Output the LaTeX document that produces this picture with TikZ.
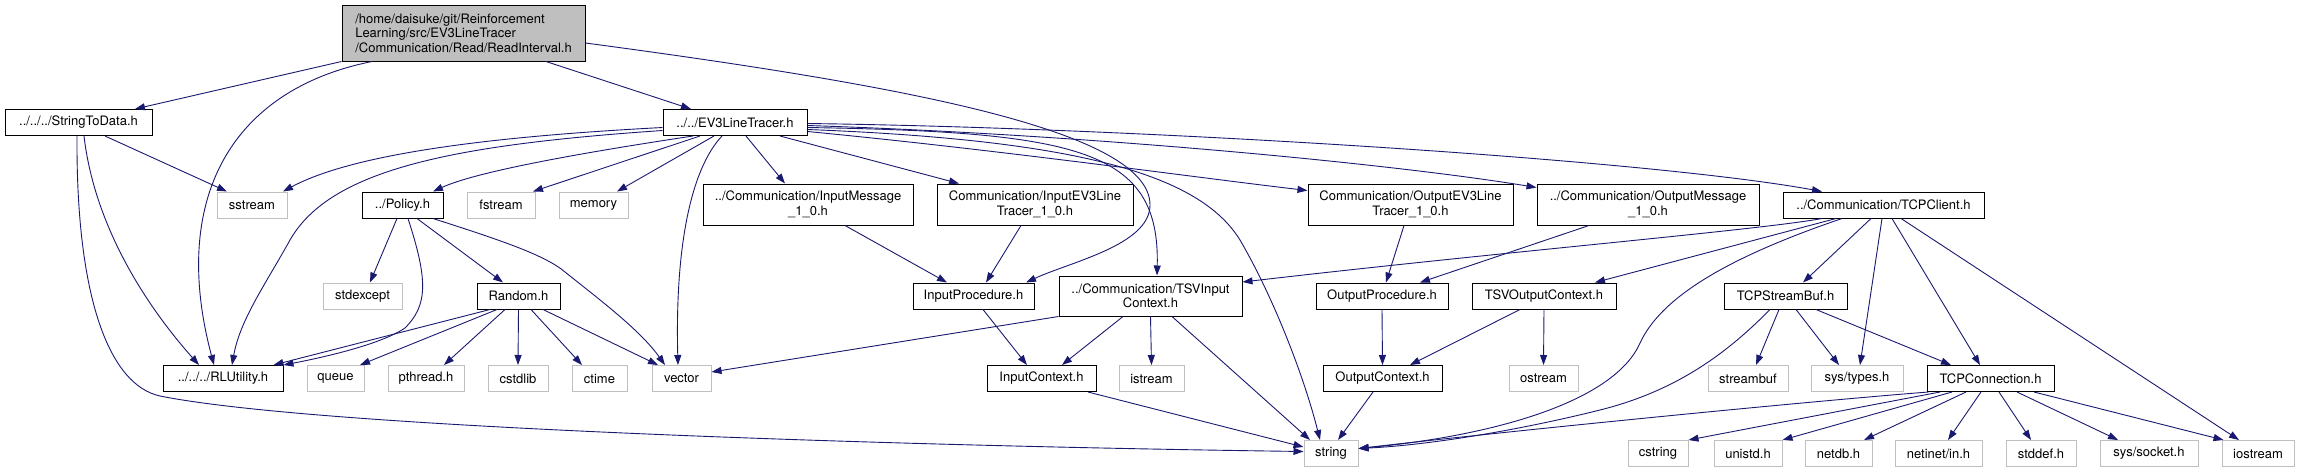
\documentclass[tikz,border=0pt]{standalone}
\usepackage{fontspec}
\setmainfont{TeX Gyre Heros}
\usepackage{tikz}
\usetikzlibrary{arrows.meta}
\definecolor{edgeblue}{HTML}{191970}
\definecolor{boxgray}{HTML}{BFBFBF}

\begin{document}
\begin{tikzpicture}[
  x=1pt, y=-1pt,
  every node/.style={font=\fontsize{13}{14.5}\selectfont},
  hdr/.style={
    rectangle, draw=black, line width=1pt, fill=white,
    minimum height=26, inner sep=0pt, align=center},
  sys/.style={hdr, draw=boxgray},
  cur/.style={hdr, fill=boxgray, align=left},
  arr/.style={
    -{Triangle[length=10pt,width=7pt]},
    draw=edgeblue, line width=0.9pt},
]

\useasboundingbox (0,0) rectangle (2300,472);

\node[cur, minimum width=243, minimum height=56] (root) at (463.5, 33)
  {/home/daisuke/git/Reinforcement\\Learning/src/EV3LineTracer\\/Communication/Read/ReadInterval.h};

\node[hdr, minimum width=147] (strdata) at (78.5, 122.5) {../../../StringToData.h};
\node[hdr, minimum width=144] (ev3)     at (735, 122.5)  {../../EV3LineTracer.h};

\node[sys, minimum width=70]  (sstr)   at (252, 205)    {sstream};
\node[hdr, minimum width=81]  (policy) at (402.5, 205)  {../Policy.h};
\node[sys, minimum width=68]  (fstr)   at (501, 205)    {fstream};
\node[sys, minimum width=69]  (mem)    at (593.5, 205)  {memory};
\node[hdr, minimum width=210, minimum height=41] (inmsg)  at (808, 204.5)
  {../Communication/InputMessage\\\_1\_0.h};
\node[hdr, minimum width=196, minimum height=41] (inev3)  at (1035, 204.5)
  {Communication/InputEV3Line\\Tracer\_1\_0.h};
\node[hdr, minimum width=205, minimum height=41] (outev3) at (1410.5, 204.5)
  {Communication/OutputEV3Line\\Tracer\_1\_0.h};
\node[hdr, minimum width=222, minimum height=41] (outmsg) at (1648, 204.5)
  {../Communication/OutputMessage\\\_1\_0.h};
\node[hdr, minimum width=201] (tcpcl)  at (1883.5, 205) {../Communication/TCPClient.h};

\node[sys, minimum width=79]  (stdexc)  at (362.5, 296)  {stdexcept};
\node[hdr, minimum width=83]  (rnd)     at (518.5, 296)  {Random.h};
\node[hdr, minimum width=121] (inproc)  at (973.5, 296)  {InputProcedure.h};
\node[hdr, minimum width=183, minimum height=40] (tsvin) at (1150.5, 296)
  {../Communication/TSVInput\\Context.h};
\node[hdr, minimum width=132] (outproc) at (1382, 296)   {OutputProcedure.h};
\node[hdr, minimum width=144] (tsvout)  at (1544, 296)   {TSVOutputContext.h};
\node[hdr, minimum width=123] (tcpbuf)  at (1785.5, 296) {TCPStreamBuf.h};

\node[hdr, minimum width=120] (rlutil)  at (223, 378.5)    {../../../RLUtility.h};
\node[sys, minimum width=57]  (queue)   at (335.5, 378.5)  {queue};
\node[sys, minimum width=76]  (pthr)    at (426, 378.5)    {pthread.h};
\node[sys, minimum width=60]  (cstdl)   at (518, 378.5)    {cstdlib};
\node[sys, minimum width=55]  (ctime)   at (599.5, 378.5)  {ctime};
\node[sys, minimum width=59]  (vect)    at (681.5, 378.5)  {vector};
\node[hdr, minimum width=109] (inctx)   at (1041.5, 378.5) {InputContext.h};
\node[sys, minimum width=65]  (istr)    at (1151.5, 378.5) {istream};
\node[hdr, minimum width=119] (outctx)  at (1382.5, 378.5) {OutputContext.h};
\node[sys, minimum width=69]  (ostr)    at (1543.5, 378.5) {ostream};
\node[sys, minimum width=80]  (sbuf)    at (1748, 378.5)   {streambuf};
\node[sys, minimum width=92]  (systy)   at (1857, 378.5)   {sys/types.h};
\node[hdr, minimum width=127] (tcpconn) at (1990.5, 378.5) {TCPConnection.h};

\node[sys, minimum width=54] (str)     at (1331, 453.5)   {string};
\node[sys, minimum width=60] (cstr)    at (1658, 453.5)   {cstring};
\node[sys, minimum width=68] (unistd)  at (1748, 453.5)   {unistd.h};
\node[sys, minimum width=67] (netdb)   at (1838.5, 453.5) {netdb.h};
\node[sys, minimum width=87] (netin)   at (1938.5, 453.5) {netinet/in.h};
\node[sys, minimum width=70] (stddef)  at (2041, 453.5)   {stddef.h};
\node[sys, minimum width=98] (syssock) at (2149, 453.5)   {sys/socket.h};
\node[sys, minimum width=72] (iostr)   at (2258, 453.5)   {iostream};

\draw[arr] (root.south west) -- ([xshift=56.5]strdata.north);
\draw[arr] ([xshift=-91.5]root.south) .. controls (230,90) and (170,200) .. ([xshift=-9]rlutil.north);
\draw[arr] ([xshift=82.5]root.south) -- ([xshift=-44]ev3.north);
\draw[arr] ([yshift=-10]root.east) .. controls (900,85) and (1150,130) .. (1150,205)
  .. controls (1150,245) and (1070,262) .. ([xshift=52.5]inproc.north);

\draw[arr] ([xshift=26.5]strdata.south) -- ([xshift=-25]sstr.north);
\draw[arr] ([xshift=5.5]strdata.south) .. controls (95,230) and (150,310) .. ([xshift=-24]rlutil.north);
\draw[arr] ([xshift=-1.5]strdata.south) .. controls (76,300) and (110,385) .. (160,396)
  .. controls (320,428) and (900,446) .. ([yshift=2]str.west);

\draw[arr] ([yshift=-5]ev3.west) .. controls (520,135) and (360,150) .. ([xshift=31]sstr.north);
\draw[arr] ([xshift=-42]ev3.south) .. controls (600,150) and (480,170) .. ([xshift=30.5]policy.north);
\draw[arr] ([xshift=-35]ev3.south) -- ([xshift=32]fstr.north);
\draw[arr] ([xshift=-21]ev3.south) -- ([xshift=23.5]mem.north);
\draw[arr] ([yshift=-8]ev3.west) .. controls (450,145) and (330,170) .. (290,240)
  .. controls (265,285) and (240,320) .. ([xshift=9]rlutil.north);
\draw[arr] ([xshift=-13]ev3.south) .. controls (690,170) and (675,250) .. ([xshift=-3.5]vect.north);
\draw[arr] ([xshift=11]ev3.south) -- ([xshift=-23]inmsg.north);
\draw[arr] ([xshift=45]ev3.south) -- ([xshift=-76]inev3.north);
\draw[arr] ([yshift=-5]ev3.east) .. controls (1080,132) and (1160,150) .. ([xshift=6.5]tsvin.north);
\draw[arr] ([yshift=-7]ev3.east) .. controls (1080,140) and (1200,175) .. (1240,240)
  .. controls (1275,300) and (1305,380) .. ([xshift=-11]str.north);
\draw[arr] ([yshift=-9]ev3.east) .. controls (1000,150) and (1200,178) .. ([yshift=14]outev3.west);
\draw[arr] ([yshift=-3]ev3.east) .. controls (1100,135) and (1400,165) .. ([yshift=17]outmsg.west);
\draw[arr] ([yshift=-1]ev3.east) .. controls (1150,128) and (1650,160) .. ([xshift=-61.5]tcpcl.north);

\draw[arr] ([xshift=-5.5]policy.south) -- ([xshift=7.5]stdexc.north);
\draw[arr] ([xshift=5.5]policy.south) .. controls (428,280) and (428,305) .. (405,328)
  .. controls (380,345) and (320,358) .. (rlutil.north east);
\draw[arr] ([xshift=14.5]policy.south) -- ([xshift=-15.5]rnd.north);
\draw[arr] ([xshift=30.5]policy.south) .. controls (500,240) and (545,255) .. (565,272)
  .. controls (600,300) and (640,330) .. ([xshift=-16.5]vect.north);

\draw[arr] ([xshift=-28.5]rnd.south) -- ([xshift=-10]rlutil.north east);
\draw[arr] ([xshift=-21.5]rnd.south) -- ([xshift=24.5]queue.north);
\draw[arr] ([xshift=-13.5]rnd.south) -- ([xshift=18]pthr.north);
\draw[arr] (rnd.south) -- (cstdl.north);
\draw[arr] ([xshift=12.5]rnd.south) -- ([xshift=-17.5]ctime.north);
\draw[arr] ([xshift=24.5]rnd.south) -- ([xshift=-23.5]vect.north);

\draw[arr] ([xshift=37]inmsg.south) -- ([xshift=-26.5]inproc.north);
\draw[arr] ([xshift=-14]inev3.south) -- ([xshift=12.5]inproc.north);
\draw[arr] ([xshift=9.5]inproc.south) -- ([xshift=-14.5]inctx.north);
\draw[arr] (tsvin.south west) -- ([yshift=6.5]vect.east);
\draw[arr] ([xshift=-27.5]tsvin.south) -- ([xshift=20.5]inctx.north);
\draw[arr] (tsvin.south) -- (istr.north);
\draw[arr] ([xshift=21.5]tsvin.south) -- ([xshift=-21]str.north);
\draw[arr] ([xshift=46.5]inctx.south) -- ([yshift=6.5]str.west);

\draw[arr] ([xshift=-6.5]outev3.south) -- ([xshift=4]outproc.north);
\draw[arr] ([xshift=-59]outmsg.south) -- ([xshift=38]outproc.north);
\draw[arr] (outproc.south) -- (outctx.north);
\draw[arr] ([xshift=-9.5]outctx.south) -- ([xshift=7]str.north);
\draw[arr] ([xshift=-24]tsvout.south) -- ([xshift=27.5]outctx.north);
\draw[arr] (tsvout.south) -- (ostr.north);

\draw[arr] ([xshift=-61.5]tcpcl.south) .. controls (1760,230) and (1500,252) .. ([yshift=14]tsvin.east);
\draw[arr] ([xshift=-47.5]tcpcl.south) -- ([xshift=51]tsvout.north);
\draw[arr] ([xshift=-41.5]tcpcl.south) .. controls (1720,260) and (1660,300) .. (1640,343)
  .. controls (1615,400) and (1500,435) .. ([yshift=5]str.east);
\draw[arr] ([xshift=-12.5]tcpcl.south) -- ([xshift=17.5]tcpbuf.north);
\draw[arr] ([xshift=-1.5]tcpcl.south) -- ([xshift=3]systy.north);
\draw[arr] ([xshift=8.5]tcpcl.south) -- ([xshift=-10.5]tcpconn.north);
\draw[arr] ([xshift=17.5]tcpcl.south) -- ([xshift=-19]iostr.north);

\draw[arr] ([xshift=-15.5]tcpbuf.south) .. controls (1730,350) and (1680,390) .. (1600,410)
  .. controls (1520,430) and (1430,445) .. ([yshift=5]str.east);
\draw[arr] ([xshift=-6.5]tcpbuf.south) -- ([xshift=8]sbuf.north);
\draw[arr] ([xshift=10.5]tcpbuf.south) -- ([xshift=-18]systy.north);
\draw[arr] ([xshift=30.5]tcpbuf.south) -- ([xshift=-39.5]tcpconn.north);

\draw[arr] ([xshift=-62]tcpconn.south) .. controls (1800,402) and (1500,432) .. ([yshift=5]str.east);
\draw[arr] ([xshift=-50.5]tcpconn.south) -- (cstr.north east);
\draw[arr] ([xshift=-38.5]tcpconn.south) -- (unistd.north east);
\draw[arr] ([xshift=-24.5]tcpconn.south) -- ([xshift=25.5]netdb.north);
\draw[arr] ([xshift=-9.5]tcpconn.south) -- ([xshift=9.5]netin.north);
\draw[arr] ([xshift=8.5]tcpconn.south) -- ([xshift=-10]stddef.north);
\draw[arr] ([xshift=26.5]tcpconn.south) -- ([xshift=-31]syssock.north);
\draw[arr] ([xshift=43.5]tcpconn.south) -- ([xshift=2]iostr.north west);

\end{tikzpicture}
\end{document}
